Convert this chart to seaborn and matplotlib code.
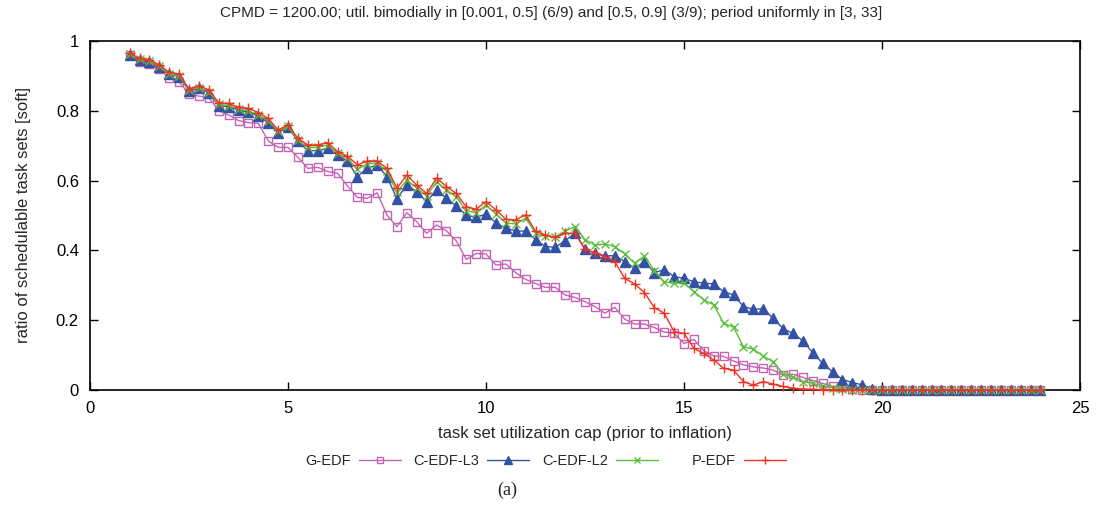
import numpy as np
import pandas as pd
import matplotlib
matplotlib.use("Agg")
import matplotlib.pyplot as plt
import seaborn as sns

# utilization caps 1.0 .. 24.0 in steps of 0.25
util_cap = np.arange(1, 24.01, 0.25)

g_edf = [0.960, 0.941, 0.934, 0.921, 0.893, 0.883, 0.848, 0.842, 0.838, 0.800,
         0.788, 0.772, 0.766, 0.764, 0.714, 0.695, 0.695, 0.667, 0.635, 0.638,
         0.626, 0.621, 0.585, 0.552, 0.549, 0.565, 0.501, 0.468, 0.508, 0.482,
         0.449, 0.473, 0.456, 0.427, 0.374, 0.391, 0.390, 0.358, 0.361, 0.336,
         0.317, 0.305, 0.294, 0.294, 0.272, 0.265, 0.253, 0.239, 0.220, 0.237,
         0.203, 0.189, 0.189, 0.179, 0.166, 0.163, 0.133, 0.145, 0.112, 0.098,
         0.096, 0.083, 0.072, 0.066, 0.063, 0.057, 0.043, 0.045, 0.036, 0.027,
         0.019, 0.010, 0.008, 0.003] + [0.0] * 19

c_edf_l3 = [0.960, 0.945, 0.940, 0.925, 0.905, 0.898, 0.858, 0.864, 0.852, 0.815,
            0.812, 0.802, 0.796, 0.785, 0.766, 0.737, 0.754, 0.712, 0.686, 0.686,
            0.692, 0.673, 0.656, 0.611, 0.635, 0.645, 0.611, 0.548, 0.587, 0.568,
            0.540, 0.573, 0.549, 0.527, 0.501, 0.495, 0.504, 0.479, 0.463, 0.456,
            0.455, 0.431, 0.411, 0.409, 0.428, 0.449, 0.403, 0.393, 0.384, 0.385,
            0.368, 0.349, 0.368, 0.336, 0.345, 0.325, 0.320, 0.310, 0.306, 0.304,
            0.282, 0.272, 0.239, 0.231, 0.233, 0.205, 0.176, 0.162, 0.141, 0.107,
            0.076, 0.052, 0.030, 0.021, 0.015, 0.003] + [0.0] * 17

c_edf_l2 = [0.962, 0.947, 0.943, 0.928, 0.905, 0.900, 0.860, 0.866, 0.855, 0.818,
            0.815, 0.805, 0.800, 0.788, 0.772, 0.742, 0.755, 0.716, 0.695, 0.695,
            0.702, 0.678, 0.664, 0.632, 0.648, 0.650, 0.626, 0.566, 0.602, 0.579,
            0.555, 0.597, 0.574, 0.553, 0.514, 0.508, 0.530, 0.505, 0.478, 0.476,
            0.492, 0.449, 0.441, 0.437, 0.456, 0.468, 0.431, 0.415, 0.418, 0.411,
            0.390, 0.363, 0.384, 0.342, 0.310, 0.306, 0.307, 0.282, 0.258, 0.244,
            0.191, 0.180, 0.124, 0.117, 0.097, 0.081, 0.047, 0.036, 0.024, 0.019,
            0.011, 0.007, 0.003, 0.001] + [0.0] * 19

p_edf = [0.965, 0.950, 0.946, 0.931, 0.910, 0.905, 0.862, 0.871, 0.860, 0.823,
         0.821, 0.810, 0.807, 0.795, 0.778, 0.745, 0.759, 0.721, 0.702, 0.702,
         0.709, 0.683, 0.670, 0.645, 0.656, 0.656, 0.635, 0.578, 0.616, 0.587,
         0.563, 0.607, 0.583, 0.563, 0.525, 0.518, 0.540, 0.516, 0.489, 0.487,
         0.502, 0.455, 0.444, 0.437, 0.449, 0.449, 0.403, 0.393, 0.382, 0.368,
         0.320, 0.304, 0.279, 0.236, 0.220, 0.167, 0.162, 0.119, 0.105, 0.086,
         0.062, 0.057, 0.024, 0.014, 0.024, 0.017, 0.010, 0.005, 0.003, 0.002,
         0.001] + [0.0] * 22

series = [
    ("G-EDF", g_edf, "#c463b4", "s", "none", 6.0),
    ("C-EDF-L3", c_edf_l3, "#3452a4", "^", None, 7.5),
    ("C-EDF-L2", c_edf_l2, "#5cbf3c", "x", None, 6.0),
    ("P-EDF", p_edf, "#ee3324", "+", None, 7.5),
]

sns.set_style("ticks")
plt.rcParams["font.family"] = ["Liberation Sans", "DejaVu Sans"]

fig = plt.figure(figsize=(11.03, 5.07), dpi=100)
ax = fig.add_axes([0.0816, 0.2308, 0.8976, 0.6884])

for name, vals, col, mk, mfc, ms in series:
    kw = dict(marker=mk, markersize=ms, markeredgewidth=1.0, linewidth=1.0,
              markeredgecolor=col, clip_on=False)
    kw["markerfacecolor"] = mfc if mfc is not None else col
    sns.lineplot(x=util_cap, y=vals, color=col, label=name, ax=ax, **kw)

ax.set_xlim(0, 25)
ax.set_ylim(0, 1)
ax.set_xticks([0, 5, 10, 15, 20, 25])
ax.set_yticks([0, 0.2, 0.4, 0.6, 0.8, 1])
ax.set_yticklabels(["0", "0.2", "0.4", "0.6", "0.8", "1"])
ax.tick_params(direction="in", top=True, right=True, length=6, width=1,
               labelsize=12, colors="black", pad=8)
for s in ax.spines.values():
    s.set_visible(True)
    s.set_color("black")
    s.set_linewidth(1.2)
    s.set_zorder(1)

ax.set_xlabel("task set utilization cap (prior to inflation)", fontsize=12, labelpad=7)
ax.set_ylabel("ratio of schedulable task sets [soft]", fontsize=12, labelpad=18)
fig.text(0.5, 1 - 13 / 507, "CPMD = 1200.00; util. bimodially in [0.001, 0.5] (6/9) and "
         "[0.5, 0.9] (3/9); period uniformly in [3, 33]", ha="center", va="center", fontsize=11)

ax.get_legend().remove()
handles, labels = ax.get_legend_handles_labels()
# gnuplot-style key: label right-aligned before each sample, fixed column slots
right_edges = [401, 529, 658, 786]
for h, lab, xr in zip(handles, labels, right_edges):
    leg = fig.legend([h], [lab], loc="center right", bbox_to_anchor=(xr / 1103, 1 - 461 / 507),
                     frameon=False, markerfirst=False, handlelength=2.9, handletextpad=0.55,
                     borderpad=0, borderaxespad=0, fontsize=10.5, markerscale=0.7)

fig.text(507 / 1103, 1 - 490 / 507, "(a)", ha="center", va="center", fontsize=13,
         family=["Liberation Serif", "DejaVu Serif"])

fig.savefig("out.png", dpi=100)
